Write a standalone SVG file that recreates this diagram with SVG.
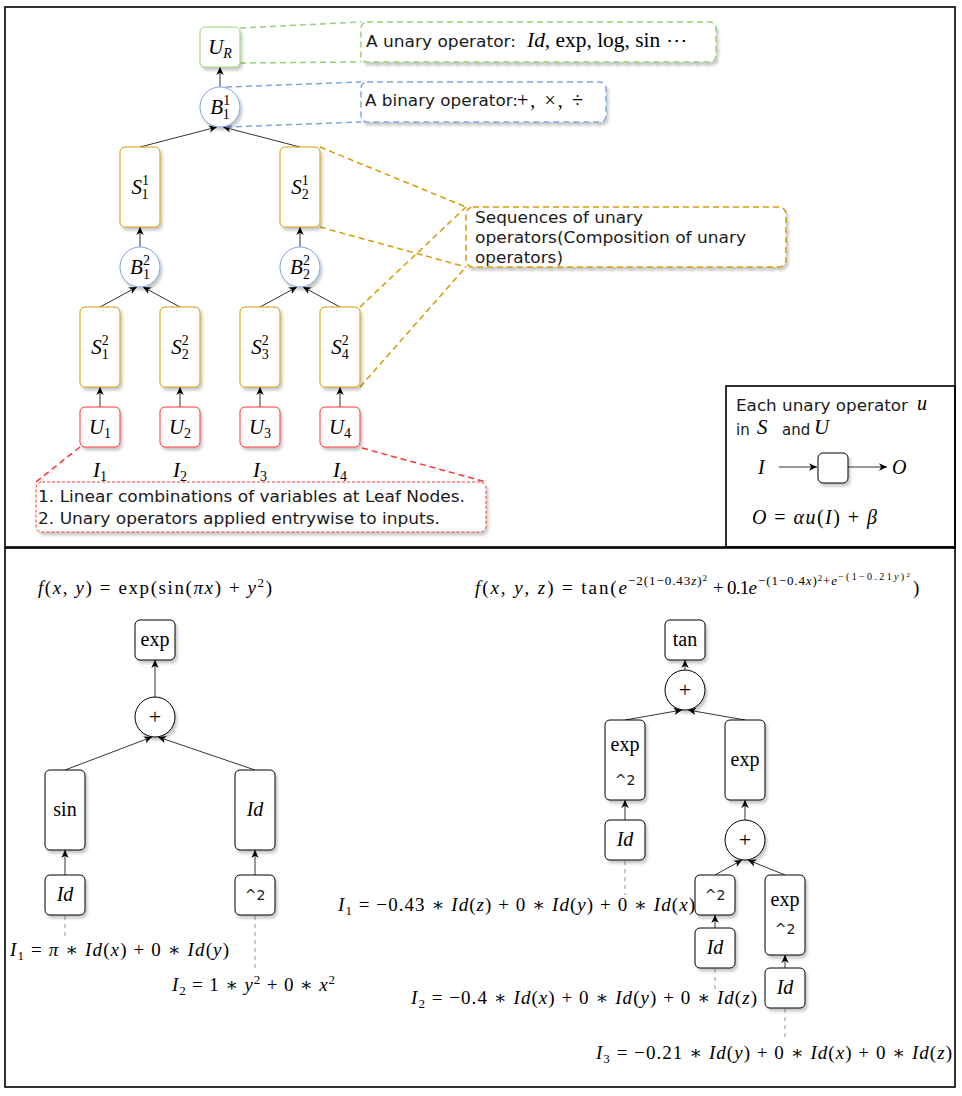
<svg xmlns="http://www.w3.org/2000/svg" width="962" height="1096" viewBox="0 0 962 1096">
<style>
.frame{fill:none;stroke:#000;stroke-width:1.6}
.gn{fill:#fff;stroke:#97D077;stroke-width:1}
.bn{fill:#fff;stroke:#7EA6E0;stroke-width:1}
.on{fill:#fff;stroke:#D79B00;stroke-width:1}
.rn{fill:#fff;stroke:#FF3333;stroke-width:1}
.kn{fill:#fff;stroke:#000;stroke-width:1}
.edge{stroke:#333;stroke-width:1;fill:none;marker-end:url(#ah)}
.gd{stroke:#97D077;stroke-width:1.5;stroke-dasharray:6 4;fill:none}
.bd{stroke:#7EA6E0;stroke-width:1.5;stroke-dasharray:6 4;fill:none}
.od{stroke:#D79B00;stroke-width:1.5;stroke-dasharray:6 4;fill:none}
.rd{stroke:#FF3333;stroke-width:1.5;stroke-dasharray:6 4;fill:none}
.grey{stroke:#bbb;stroke-width:1.5;stroke-dasharray:4 4;fill:none}
.m{font-family:"Liberation Serif","DejaVu Serif",serif;fill:#000}
.n{font-size:21px}
.k{font-size:20px}
.f{font-size:19px}
.i{font-style:italic}
.s{font-family:"DejaVu Sans","Liberation Sans",sans-serif;fill:#1a1a1a}
.s15{font-size:15px}
.s14{font-size:14px}
</style>
<defs>
<marker id="ah" markerWidth="9" markerHeight="9" refX="8" refY="4.5" orient="auto" markerUnits="userSpaceOnUse"><path d="M0,0.8 L8,4.5 L0,8.2 L2.2,4.5 z" fill="#000"/></marker>
<filter id="sh" x="-20%" y="-20%" width="150%" height="150%"><feDropShadow dx="2" dy="3" stdDeviation="1.5" flood-color="#000" flood-opacity="0.22"/></filter>
</defs>
<rect width="962" height="1096" fill="#fff"/>
<g id="frames">
<rect class="frame" x="5" y="7" width="950" height="540"/>
<rect class="frame" x="5" y="548" width="950" height="539"/>
<rect class="frame" x="726" y="386" width="229" height="161"/>
</g>

<g id="connectors">
<line class="edge" x1="220" y1="87" x2="220" y2="67"/>
<line class="edge" x1="140" y1="147" x2="217" y2="127"/>
<line class="edge" x1="300" y1="147" x2="223" y2="127"/>
<line class="edge" x1="140" y1="247" x2="140" y2="227"/>
<line class="edge" x1="300" y1="247" x2="300" y2="227"/>
<line class="edge" x1="100" y1="307" x2="137" y2="287"/>
<line class="edge" x1="180" y1="307" x2="143" y2="287"/>
<line class="edge" x1="260" y1="307" x2="297" y2="287"/>
<line class="edge" x1="340" y1="307" x2="303" y2="287"/>
<line class="edge" x1="100" y1="407" x2="100" y2="387"/>
<line class="edge" x1="180" y1="407" x2="180" y2="387"/>
<line class="edge" x1="260" y1="407" x2="260" y2="387"/>
<line class="edge" x1="340" y1="407" x2="340" y2="387"/>
<line class="gd" x1="240" y1="28" x2="361" y2="22"/>
<line class="gd" x1="240" y1="63" x2="361" y2="62"/>
<line class="bd" x1="226" y1="87" x2="361" y2="82"/>
<line class="bd" x1="226" y1="127" x2="361" y2="122"/>
<line class="od" x1="320" y1="147" x2="466" y2="207"/>
<line class="od" x1="320" y1="227" x2="466" y2="267"/>
<line class="od" x1="360" y1="307" x2="466" y2="207"/>
<line class="od" x1="360" y1="387" x2="466" y2="267"/>
<line class="rd" x1="80" y1="447" x2="36" y2="482"/>
<line class="rd" x1="362" y1="448" x2="486" y2="482"/>
<line class="edge" x1="779" y1="467" x2="817" y2="467"/>
<line class="edge" x1="848" y1="467" x2="887" y2="467"/>
<line class="edge" x1="155" y1="697" x2="155" y2="660"/>
<line class="edge" x1="65" y1="770" x2="152" y2="737"/>
<line class="edge" x1="255" y1="770" x2="158" y2="737"/>
<line class="edge" x1="65" y1="875" x2="65" y2="850"/>
<line class="edge" x1="255" y1="875" x2="255" y2="850"/>
<line class="grey" x1="65" y1="916" x2="65" y2="936"/>
<line class="grey" x1="255" y1="916" x2="255" y2="972"/>
<line class="edge" x1="685" y1="670" x2="685" y2="660"/>
<line class="edge" x1="625" y1="720" x2="682" y2="710"/>
<line class="edge" x1="745" y1="720" x2="688" y2="710"/>
<line class="edge" x1="625" y1="820" x2="625" y2="800"/>
<line class="edge" x1="745" y1="820" x2="745" y2="800"/>
<line class="edge" x1="715" y1="875" x2="742" y2="860"/>
<line class="edge" x1="785" y1="875" x2="748" y2="860"/>
<line class="edge" x1="715" y1="928" x2="715" y2="915"/>
<line class="edge" x1="785" y1="968" x2="785" y2="955"/>
<line class="grey" x1="625" y1="861" x2="625" y2="895"/>
<line class="grey" x1="715" y1="969" x2="715" y2="990"/>
<line class="grey" x1="785" y1="1009" x2="785" y2="1040"/>
</g>

<g id="n-UR"><rect class="gn" filter="url(#sh)" x="200" y="27" width="40" height="40" rx="5"/>
<text class="m n" x="220" y="54" text-anchor="middle"><tspan class="i">U</tspan><tspan class="i" font-size="14" dy="4">R</tspan></text></g>
<g id="n-B11"><circle class="bn" filter="url(#sh)" cx="220" cy="107" r="20"/>
<text class="m n" x="220" y="114" text-anchor="middle"><tspan class="i">B</tspan><tspan font-size="14" dy="-9">1</tspan><tspan font-size="14" dx="-7" dy="14">1</tspan></text></g>
<g id="n-S11"><rect class="on" filter="url(#sh)" x="120" y="147" width="40" height="80" rx="5"/>
<text class="m n" x="140" y="194" text-anchor="middle"><tspan class="i">S</tspan><tspan font-size="14" dy="-9">1</tspan><tspan font-size="14" dx="-7" dy="14">1</tspan></text></g>
<g id="n-S21"><rect class="on" filter="url(#sh)" x="280" y="147" width="40" height="80" rx="5"/>
<text class="m n" x="300" y="194" text-anchor="middle"><tspan class="i">S</tspan><tspan font-size="14" dy="-9">1</tspan><tspan font-size="14" dx="-7" dy="14">2</tspan></text></g>
<g id="n-B12"><circle class="bn" filter="url(#sh)" cx="140" cy="267" r="20"/>
<text class="m n" x="140" y="274" text-anchor="middle"><tspan class="i">B</tspan><tspan font-size="14" dy="-9">2</tspan><tspan font-size="14" dx="-7" dy="14">1</tspan></text></g>
<g id="n-B22"><circle class="bn" filter="url(#sh)" cx="300" cy="267" r="20"/>
<text class="m n" x="300" y="274" text-anchor="middle"><tspan class="i">B</tspan><tspan font-size="14" dy="-9">2</tspan><tspan font-size="14" dx="-7" dy="14">2</tspan></text></g>
<g id="n-S12"><rect class="on" filter="url(#sh)" x="80" y="307" width="40" height="80" rx="5"/>
<text class="m n" x="100" y="354" text-anchor="middle"><tspan class="i">S</tspan><tspan font-size="14" dy="-9">2</tspan><tspan font-size="14" dx="-7" dy="14">1</tspan></text></g>
<g id="n-S22"><rect class="on" filter="url(#sh)" x="160" y="307" width="40" height="80" rx="5"/>
<text class="m n" x="180" y="354" text-anchor="middle"><tspan class="i">S</tspan><tspan font-size="14" dy="-9">2</tspan><tspan font-size="14" dx="-7" dy="14">2</tspan></text></g>
<g id="n-S32"><rect class="on" filter="url(#sh)" x="240" y="307" width="40" height="80" rx="5"/>
<text class="m n" x="260" y="354" text-anchor="middle"><tspan class="i">S</tspan><tspan font-size="14" dy="-9">2</tspan><tspan font-size="14" dx="-7" dy="14">3</tspan></text></g>
<g id="n-S42"><rect class="on" filter="url(#sh)" x="320" y="307" width="40" height="80" rx="5"/>
<text class="m n" x="340" y="354" text-anchor="middle"><tspan class="i">S</tspan><tspan font-size="14" dy="-9">2</tspan><tspan font-size="14" dx="-7" dy="14">4</tspan></text></g>
<g id="n-U1"><rect class="rn" filter="url(#sh)" x="80" y="407" width="40" height="40" rx="5"/>
<text class="m n" x="100" y="434" text-anchor="middle"><tspan class="i">U</tspan><tspan font-size="14" dy="4">1</tspan></text></g>
<g id="n-U2"><rect class="rn" filter="url(#sh)" x="160" y="407" width="40" height="40" rx="5"/>
<text class="m n" x="180" y="434" text-anchor="middle"><tspan class="i">U</tspan><tspan font-size="14" dy="4">2</tspan></text></g>
<g id="n-U3"><rect class="rn" filter="url(#sh)" x="240" y="407" width="40" height="40" rx="5"/>
<text class="m n" x="260" y="434" text-anchor="middle"><tspan class="i">U</tspan><tspan font-size="14" dy="4">3</tspan></text></g>
<g id="n-U4"><rect class="rn" filter="url(#sh)" x="320" y="407" width="40" height="40" rx="5"/>
<text class="m n" x="340" y="434" text-anchor="middle"><tspan class="i">U</tspan><tspan font-size="14" dy="4">4</tspan></text></g>
<g id="inputs">
<text class="m n" x="100" y="477" text-anchor="middle"><tspan class="i">I</tspan><tspan font-size="14" dy="4">1</tspan></text>
<text class="m n" x="180" y="477" text-anchor="middle"><tspan class="i">I</tspan><tspan font-size="14" dy="4">2</tspan></text>
<text class="m n" x="260" y="477" text-anchor="middle"><tspan class="i">I</tspan><tspan font-size="14" dy="4">3</tspan></text>
<text class="m n" x="340" y="477" text-anchor="middle"><tspan class="i">I</tspan><tspan font-size="14" dy="4">4</tspan></text>
</g>

<g id="a-unary"><rect class="gd" filter="url(#sh)" style="fill:#fff" x="361" y="22" width="355" height="40" rx="6"/>
<text class="s s15" x="366" y="47" textLength="150" lengthAdjust="spacingAndGlyphs">A unary operator:</text>
<text class="m k" x="527" y="47" textLength="160" lengthAdjust="spacingAndGlyphs"><tspan class="i">Id</tspan>, exp, log, sin ⋯</text></g>
<g id="a-binary"><rect class="bd" filter="url(#sh)" style="fill:#fff" x="361" y="82" width="245" height="40" rx="6"/>
<text class="s s15" x="365" y="106" textLength="153" lengthAdjust="spacingAndGlyphs">A binary operator:</text>
<text class="m k" x="517" y="107" textLength="66" lengthAdjust="spacing">+, ×, ÷</text></g>
<g id="a-seq"><rect class="od" filter="url(#sh)" style="fill:#fff" x="466" y="207" width="320" height="60" rx="7"/>
<text class="s s15" x="475" y="223" textLength="168" lengthAdjust="spacingAndGlyphs">Sequences of unary</text>
<text class="s s15" x="475" y="243" textLength="271" lengthAdjust="spacingAndGlyphs">operators(Composition of unary</text>
<text class="s s15" x="475" y="263" textLength="88" lengthAdjust="spacingAndGlyphs">operators)</text></g>
<g id="a-leaf"><rect filter="url(#sh)" x="36" y="482" width="450" height="50" rx="6" style="fill:#fff;stroke:#FF3333;stroke-width:1;stroke-dasharray:3 2"/>
<text class="s s15" x="38" y="502" textLength="427" lengthAdjust="spacingAndGlyphs">1. Linear combinations of variables at Leaf Nodes.</text>
<text class="s s15" x="38" y="524" textLength="402" lengthAdjust="spacingAndGlyphs">2. Unary operators applied entrywise to inputs.</text></g>

<g id="legend">
<text class="s s15" x="736" y="411" textLength="172" lengthAdjust="spacingAndGlyphs">Each unary operator</text>
<text class="m i k" x="917" y="410">u</text>
<text class="s s15" x="736" y="435">in</text>
<text class="m i n" x="757" y="434">S</text>
<text class="s s15" x="782" y="435">and</text>
<text class="m i n" x="814" y="434">U</text>
<text class="m i k" x="758" y="474">I</text>
<rect class="kn" filter="url(#sh)" x="818" y="453" width="30" height="30" rx="5"/>
<text class="m i k" x="892" y="474">O</text>
<text class="m k" x="752" y="524" textLength="125" lengthAdjust="spacing"><tspan class="i">O</tspan> = <tspan class="i">αu</tspan>(<tspan class="i">I</tspan>) + <tspan class="i">β</tspan></text>
</g>

<g id="ex1-title"><text class="m f" x="38" y="594" textLength="234" lengthAdjust="spacing"><tspan class="i">f</tspan>(<tspan class="i">x</tspan>, <tspan class="i">y</tspan>) = exp(sin(<tspan class="i">πx</tspan>) + <tspan class="i">y</tspan><tspan font-size="13" dy="-7">2</tspan><tspan dy="7">)</tspan></text></g>
<g id="n-exp1"><rect class="kn" filter="url(#sh)" x="135" y="620" width="40" height="40" rx="5"/><text class="m k" x="155" y="646" text-anchor="middle">exp</text></g>
<g id="n-plus1"><circle class="kn" filter="url(#sh)" cx="155" cy="717" r="20"/><text class="m" style="font-size:22px" x="155" y="724" text-anchor="middle">+</text></g>
<g id="n-sin"><rect class="kn" filter="url(#sh)" x="45" y="770" width="40" height="80" rx="5"/><text class="m k" x="65" y="816" text-anchor="middle">sin</text></g>
<g id="n-Id1"><rect class="kn" filter="url(#sh)" x="235" y="770" width="40" height="80" rx="5"/><text class="m i k" x="255" y="816" text-anchor="middle">Id</text></g>
<g id="n-Id2"><rect class="kn" filter="url(#sh)" x="45" y="875" width="40" height="40" rx="5"/><text class="m i k" x="65" y="901" text-anchor="middle">Id</text></g>
<g id="n-sq1"><rect class="kn" filter="url(#sh)" x="235" y="875" width="40" height="40" rx="5"/><text class="s s14" x="255" y="900" text-anchor="middle">^2</text></g>
<text class="m f" x="10" y="956" textLength="219" lengthAdjust="spacing"><tspan class="i">I</tspan><tspan font-size="13" dy="4">1</tspan><tspan dy="-4"> = </tspan><tspan class="i">π</tspan> ∗ <tspan class="i">Id</tspan>(<tspan class="i">x</tspan>) + 0 ∗ <tspan class="i">Id</tspan>(<tspan class="i">y</tspan>)</text>
<text class="m f" x="172" y="991" textLength="163" lengthAdjust="spacing"><tspan class="i">I</tspan><tspan font-size="13" dy="4">2</tspan><tspan dy="-4"> = 1 ∗ </tspan><tspan class="i">y</tspan><tspan font-size="13" dy="-7">2</tspan><tspan dy="7"> + 0 ∗ </tspan><tspan class="i">x</tspan><tspan font-size="13" dy="-7">2</tspan></text>

<g id="ex2-title">
<text class="m f" x="475" y="594" textLength="152" lengthAdjust="spacing"><tspan class="i">f</tspan>(<tspan class="i">x</tspan>, <tspan class="i">y</tspan>, <tspan class="i">z</tspan>) = tan(<tspan class="i">e</tspan></text>
<text class="m" style="font-size:13px" x="628" y="585" textLength="79" lengthAdjust="spacing">−2(1−0.43<tspan class="i">z</tspan>)<tspan font-size="9" dy="-4">2</tspan></text>
<text class="m f" x="713" y="594" textLength="44" lengthAdjust="spacing">+ 0.1<tspan class="i">e</tspan></text>
<text class="m" style="font-size:13px" x="758" y="585" textLength="79" lengthAdjust="spacing">−(1−0.4<tspan class="i">x</tspan>)<tspan font-size="9" dy="-4">2</tspan><tspan dy="4">+</tspan><tspan class="i">e</tspan></text>
<text class="m" style="font-size:10px" x="838" y="580" textLength="72" lengthAdjust="spacing">−(1−0.21<tspan class="i">y</tspan>)<tspan font-size="7" dy="-3">2</tspan></text>
<text class="m f" x="913" y="594">)</text>
</g>
<g id="n-tan"><rect class="kn" filter="url(#sh)" x="665" y="620" width="40" height="40" rx="5"/><text class="m k" x="685" y="646" text-anchor="middle">tan</text></g>
<g id="n-plus2"><circle class="kn" filter="url(#sh)" cx="685" cy="690" r="20"/><text class="m" style="font-size:22px" x="685" y="697" text-anchor="middle">+</text></g>
<g id="n-expsq1"><rect class="kn" filter="url(#sh)" x="605" y="720" width="40" height="80" rx="5"/><text class="m k" x="625" y="751" text-anchor="middle">exp</text><text class="s s14" x="625" y="785" text-anchor="middle">^2</text></g>
<g id="n-exp2"><rect class="kn" filter="url(#sh)" x="725" y="720" width="40" height="80" rx="5"/><text class="m k" x="745" y="766" text-anchor="middle">exp</text></g>
<g id="n-Id3"><rect class="kn" filter="url(#sh)" x="605" y="820" width="40" height="40" rx="5"/><text class="m i k" x="625" y="846" text-anchor="middle">Id</text></g>
<g id="n-plus3"><circle class="kn" filter="url(#sh)" cx="745" cy="840" r="20"/><text class="m" style="font-size:22px" x="745" y="847" text-anchor="middle">+</text></g>
<g id="n-sq2"><rect class="kn" filter="url(#sh)" x="695" y="875" width="40" height="40" rx="5"/><text class="s s14" x="715" y="900" text-anchor="middle">^2</text></g>
<g id="n-expsq2"><rect class="kn" filter="url(#sh)" x="765" y="875" width="40" height="80" rx="5"/><text class="m k" x="785" y="906" text-anchor="middle">exp</text><text class="s s14" x="785" y="934" text-anchor="middle">^2</text></g>
<g id="n-Id4"><rect class="kn" filter="url(#sh)" x="695" y="928" width="40" height="40" rx="5"/><text class="m i k" x="715" y="954" text-anchor="middle">Id</text></g>
<g id="n-Id5"><rect class="kn" filter="url(#sh)" x="765" y="968" width="40" height="40" rx="5"/><text class="m i k" x="785" y="994" text-anchor="middle">Id</text></g>
<text class="m f" x="338" y="911" textLength="357" lengthAdjust="spacing"><tspan class="i">I</tspan><tspan font-size="13" dy="4">1</tspan><tspan dy="-4"> = −0.43 ∗ </tspan><tspan class="i">Id</tspan>(<tspan class="i">z</tspan>) + 0 ∗ <tspan class="i">Id</tspan>(<tspan class="i">y</tspan>) + 0 ∗ <tspan class="i">Id</tspan>(<tspan class="i">x</tspan>)</text>
<text class="m f" x="411" y="1004" textLength="346" lengthAdjust="spacing"><tspan class="i">I</tspan><tspan font-size="13" dy="4">2</tspan><tspan dy="-4"> = −0.4 ∗ </tspan><tspan class="i">Id</tspan>(<tspan class="i">x</tspan>) + 0 ∗ <tspan class="i">Id</tspan>(<tspan class="i">y</tspan>) + 0 ∗ <tspan class="i">Id</tspan>(<tspan class="i">z</tspan>)</text>
<text class="m f" x="596" y="1059" textLength="356" lengthAdjust="spacing"><tspan class="i">I</tspan><tspan font-size="13" dy="4">3</tspan><tspan dy="-4"> = −0.21 ∗ </tspan><tspan class="i">Id</tspan>(<tspan class="i">y</tspan>) + 0 ∗ <tspan class="i">Id</tspan>(<tspan class="i">x</tspan>) + 0 ∗ <tspan class="i">Id</tspan>(<tspan class="i">z</tspan>)</text>
</svg>
